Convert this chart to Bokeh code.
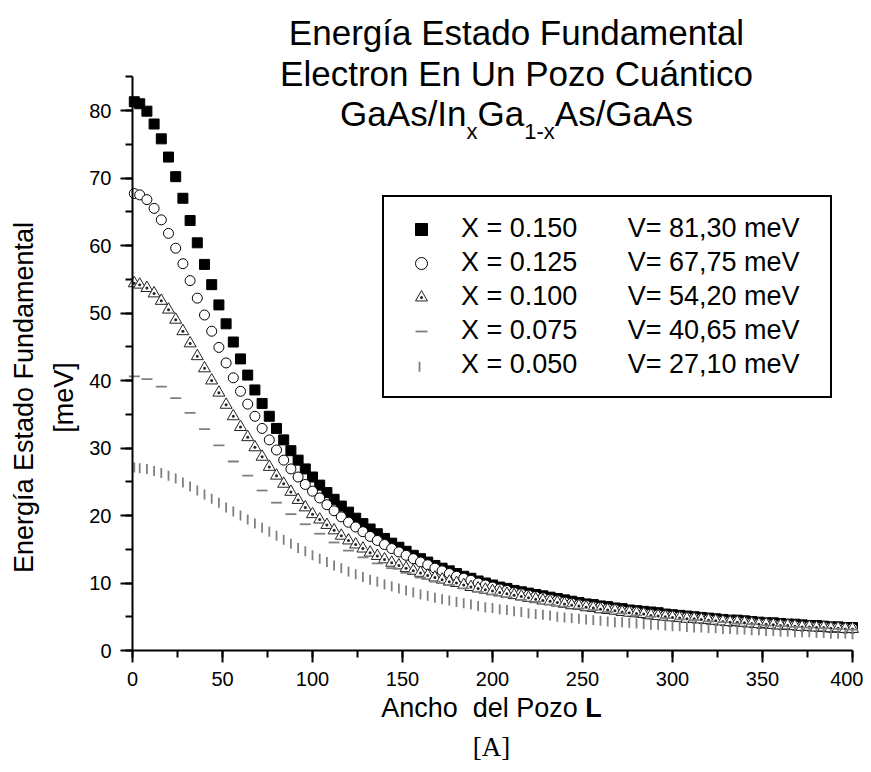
import math
from bokeh.plotting import figure
from bokeh.models import Label, Legend, LegendItem, SingleIntervalTicker, Range1d, BoxAnnotation
from bokeh.embed import file_html
from bokeh.resources import INLINE

# ---------------- data ----------------
L_main = [1] + list(range(4, 401, 4))    # well width L [A]
L_dash = [1] + list(range(8, 401, 8))

E_x150 = [81.3, 81.0, 79.9, 78.0, 75.8, 73.1, 70.2, 67.0, 63.7, 60.4,
          57.2, 54.2, 51.2, 48.4, 45.7, 43.2, 40.8, 38.6, 36.6, 34.7,
          32.9, 31.2, 29.6, 28.2, 26.9, 25.7, 24.5, 23.4, 22.4, 21.4,
          20.5, 19.6, 18.8, 18.0, 17.3, 16.6, 15.9, 15.3, 14.7, 14.1,
          13.6, 13.1, 12.6, 12.2, 11.8, 11.4, 11.0, 10.7, 10.3, 10.0,
          9.7, 9.4, 9.2, 8.9, 8.7, 8.5, 8.3, 8.1, 7.9, 7.7,
          7.5, 7.3, 7.1, 6.9, 6.8, 6.6, 6.5, 6.3, 6.2, 6.0,
          5.9, 5.8, 5.7, 5.6, 5.4, 5.3, 5.2, 5.1, 5.0, 4.9,
          4.8, 4.7, 4.6, 4.5, 4.5, 4.4, 4.3, 4.2, 4.1, 4.1,
          4.0, 3.9, 3.9, 3.8, 3.7, 3.7, 3.6, 3.5, 3.5, 3.4,
          3.4]

E_x125 = [67.7, 67.5, 66.8, 65.5, 63.8, 61.8, 59.6, 57.3, 54.8, 52.2,
          49.7, 47.3, 44.9, 42.6, 40.4, 38.4, 36.5, 34.7, 32.9, 31.2,
          29.7, 28.2, 26.9, 25.7, 24.6, 23.6, 22.6, 21.6, 20.7, 19.8,
          19.0, 18.3, 17.6, 16.9, 16.3, 15.7, 15.1, 14.6, 14.1, 13.6,
          13.1, 12.7, 12.2, 11.8, 11.4, 11.0, 10.7, 10.4, 10.0, 9.7,
          9.4, 9.1, 8.9, 8.6, 8.4, 8.2, 8.0, 7.8, 7.6, 7.4,
          7.2, 7.0, 6.8, 6.7, 6.5, 6.4, 6.2, 6.1, 5.9, 5.8,
          5.7, 5.5, 5.4, 5.3, 5.2, 5.1, 5.0, 4.9, 4.8, 4.7,
          4.6, 4.5, 4.4, 4.3, 4.3, 4.2, 4.1, 4.0, 4.0, 3.9,
          3.8, 3.8, 3.7, 3.6, 3.6, 3.5, 3.5, 3.4, 3.4, 3.3,
          3.3]

E_x100 = [54.4, 54.2, 53.7, 52.9, 51.8, 50.5, 49.0, 47.3, 45.5, 43.6,
          41.8, 40.0, 38.2, 36.4, 34.7, 33.1, 31.6, 30.1, 28.7, 27.2,
          25.9, 24.7, 23.5, 22.3, 21.2, 20.2, 19.4, 18.6, 17.8, 17.0,
          16.3, 15.7, 15.1, 14.5, 14.0, 13.5, 13.0, 12.6, 12.2, 11.8,
          11.5, 11.1, 10.8, 10.5, 10.2, 10.0, 9.7, 9.4, 9.2, 9.0,
          8.8, 8.6, 8.4, 8.2, 8.0, 7.8, 7.6, 7.4, 7.3, 7.1,
          6.9, 6.7, 6.6, 6.4, 6.3, 6.1, 6.0, 5.9, 5.7, 5.6,
          5.5, 5.4, 5.2, 5.1, 5.0, 4.9, 4.8, 4.7, 4.7, 4.6,
          4.5, 4.4, 4.3, 4.2, 4.2, 4.1, 4.0, 3.9, 3.9, 3.8,
          3.7, 3.7, 3.6, 3.5, 3.5, 3.4, 3.4, 3.3, 3.3, 3.2,
          3.2]

E_x075 = [40.6, 40.2, 39.1, 37.4, 35.2, 32.8, 30.4, 28.0, 25.9, 23.7,
          21.9, 20.2, 18.7, 17.3, 16.0, 14.8, 13.8, 12.9, 12.2, 11.5,
          10.8, 10.2, 9.7, 9.2, 8.7, 8.3, 7.9, 7.5, 7.2, 6.8,
          6.5, 6.2, 6.0, 5.7, 5.5, 5.2, 5.0, 4.8, 4.6, 4.5,
          4.3, 4.2, 4.0, 3.9, 3.7, 3.6, 3.5, 3.4, 3.3, 3.2,
          3.1]

E_x050 = [27.1, 27.0, 26.9, 26.6, 26.3, 25.9, 25.5, 24.9, 24.3, 23.7,
          23.1, 22.5, 21.9, 21.2, 20.6, 20.0, 19.4, 18.8, 18.2, 17.6,
          17.0, 16.4, 15.8, 15.2, 14.7, 14.1, 13.6, 13.1, 12.6, 12.2,
          11.7, 11.3, 10.9, 10.5, 10.2, 9.8, 9.5, 9.2, 8.9, 8.6,
          8.3, 8.1, 7.8, 7.6, 7.4, 7.2, 7.0, 6.8, 6.6, 6.4,
          6.3, 6.1, 6.0, 5.8, 5.7, 5.5, 5.4, 5.3, 5.2, 5.0,
          4.9, 4.8, 4.7, 4.6, 4.5, 4.4, 4.3, 4.2, 4.2, 4.1,
          4.0, 3.9, 3.8, 3.8, 3.7, 3.6, 3.6, 3.5, 3.4, 3.4,
          3.3, 3.3, 3.2, 3.2, 3.1, 3.1, 3.0, 3.0, 2.9, 2.9,
          2.8, 2.8, 2.7, 2.7, 2.7, 2.6, 2.6, 2.5, 2.5, 2.5,
          2.4]

x_labels = ["X = 0.150", "X = 0.125", "X = 0.100", "X = 0.075", "X = 0.050"]
v_labels = ["V= 81,30 meV", "V= 67,75 meV", "V= 54,20 meV", "V= 40,65 meV", "V= 27,10 meV"]

FONT = "Liberation Sans"
SERIF = "Liberation Serif"
GREY = "#7f7f7f"

# ---------------- geometry (pixels) ----------------
W, H = 863, 768
X0_PX, Y0_PX = 132, 650          # where the data origin sits on the canvas
PX_PER_X, PX_PER_Y = 1.8, 6.75   # 400 units -> 720 px, 85 units -> ~574 px

p = figure(width=W, height=H, output_backend="svg", toolbar_location=None,
           x_range=Range1d(-X0_PX / PX_PER_X, (W - X0_PX) / PX_PER_X),
           y_range=Range1d(-(H - Y0_PX) / PX_PER_Y, Y0_PX / PX_PER_Y),
           min_border=0, min_border_left=0, min_border_right=0,
           min_border_top=0, min_border_bottom=0)
p.outline_line_color = None
p.xgrid.visible = False
p.ygrid.visible = False
p.background_fill_color = "white"
p.border_fill_color = "white"

p.xaxis.ticker = SingleIntervalTicker(interval=50, num_minor_ticks=2)
p.yaxis.ticker = SingleIntervalTicker(interval=10, num_minor_ticks=2)
p.xaxis.fixed_location = 0
p.yaxis.fixed_location = 0
p.xaxis.bounds = (0, 400)
p.yaxis.bounds = (0, 85)
for ax in (p.xaxis[0], p.yaxis[0]):
    ax.axis_line_width = 2
    ax.axis_line_color = "black"
    ax.major_tick_line_width = 2
    ax.minor_tick_line_width = 2
    ax.major_tick_line_color = "black"
    ax.minor_tick_line_color = "black"
    ax.major_tick_out = 12
    ax.major_tick_in = 0
    ax.minor_tick_out = 7
    ax.minor_tick_in = 0
    ax.major_label_text_font = FONT
    ax.major_label_text_font_size = "20px"
    ax.major_label_text_color = "black"
p.yaxis.major_label_standoff = 9
p.xaxis.major_label_standoff = 9

# ---------------- legend geometry ----------------
LEG_LEFT, LEG_BOTTOM = 382, 398    # legend box, canvas px
PAD, GW, GH, SPACING, ROW_H = 16, 42, 30, 3, 31.4

# vertical tick key for the last legend row (a thin grey bar in the legend's glyph slot);
# the legend box is transparent so this shows through it
key_cx = LEG_LEFT + PAD + GW / 2
key_cy = LEG_BOTTOM - PAD - ROW_H / 2
p.add_layout(BoxAnnotation(left=key_cx - 0.9, right=key_cx + 0.9,
                           bottom=H - (key_cy + 5), top=H - (key_cy - 5),
                           left_units="screen", right_units="screen",
                           top_units="screen", bottom_units="screen",
                           fill_color=GREY, fill_alpha=1.0, line_alpha=0))

# ---------------- series ----------------
r1 = p.scatter(L_main, E_x150, marker="square", size=10,
               fill_color="black", line_color="black")
r2 = p.scatter(L_main, E_x125, marker="circle", size=10,
               fill_color="white", line_color="black", line_width=1)
r3 = p.scatter(L_main, E_x100, marker="triangle_dot", size=12,
               fill_color="white", line_color="#222222", line_width=1)
r4 = p.scatter(L_dash, E_x075, marker="dash", size=11,
               line_color=GREY, line_width=1.8)
r5 = p.scatter(L_main, E_x050, marker="dash", angle=math.pi / 2, size=10,
               line_color=GREY, line_width=1.8)
# the legend cannot rotate a marker: an invisible twin carries the last legend entry
r5_key = p.scatter(L_main, E_x050, marker="dash", size=10, line_alpha=0)

gap = "\u00a0" * 6 + "\u2009"
items = [LegendItem(label=xl + gap + vl, renderers=[r])
         for xl, vl, r in zip(x_labels, v_labels, [r1, r2, r3, r4, r5_key])]
legend = Legend(items=items, location=(LEG_LEFT, H - LEG_BOTTOM),
                border_line_color="black", border_line_width=2, border_line_alpha=1.0,
                background_fill_alpha=0.0,
                label_text_font=FONT, label_text_font_size="27px",
                label_text_color="black",
                padding=PAD, spacing=SPACING, glyph_width=GW, glyph_height=GH,
                label_height=30, label_width=353, label_standoff=19, margin=0)
p.add_layout(legend)

# ---------------- texts ----------------
def put(text, px, py_mid, size, font=FONT, align="left", angle=0.0, style="normal"):
    p.add_layout(Label(x=px, y=H - py_mid, x_units="screen", y_units="screen",
                       text=text, text_font=font, text_font_size=f"{size}px",
                       text_align=align, text_baseline="middle", angle=angle,
                       text_color="black", text_font_style=style))


def mid(baseline, size, k=0.3465):
    return baseline - k * size


ARIAL_W = {"G": 778, "a": 556, "A": 667, "s": 500, "/": 278, "I": 278,
           "n": 556, "x": 500, "1": 556, "-": 333}


def tw(s, size):
    return sum(ARIAL_W[c] for c in s) * size / 1000.0


TCX, TS, SS = 516, 35, 22
put("Energía Estado Fundamental", TCX, mid(44, TS), TS, align="center")
put("Electron En Un Pozo Cuántico", TCX, mid(85, TS), TS, align="center")
parts = [("GaAs/In", TS, 125), ("x", SS, 139), ("Ga", TS, 125), ("1-x", SS, 139), ("As/GaAs", TS, 125)]
total = sum(tw(t, s) for t, s, _ in parts)
cx = TCX - total / 2
for t, s, base in parts:
    put(t, cx, mid(base, s), s)
    cx += tw(t, s)

# x axis title
XS = 27
w_main = (2835 + 556 + 1334 + 278 + 2279 + 278) * XS / 1000.0
x0 = 491 - (w_main + 611 * XS / 1000.0) / 2
put("Ancho\u00a0 del Pozo", x0, mid(717, XS), XS)
put("L", x0 + w_main, mid(717, XS), XS, style="bold")
put("[A]", 491, mid(756, XS, 0.3375), XS, font=SERIF, align="center")

# y axis title (rotated, reads bottom to top)
put("Energía Estado Fundamental", 33 - 0.3465 * XS, 397, XS, align="center", angle=math.pi / 2)
put("[meV]", 73 - 0.3465 * XS, 397, XS, align="center", angle=math.pi / 2)

open("out.html", "w").write(file_html(p, INLINE))
